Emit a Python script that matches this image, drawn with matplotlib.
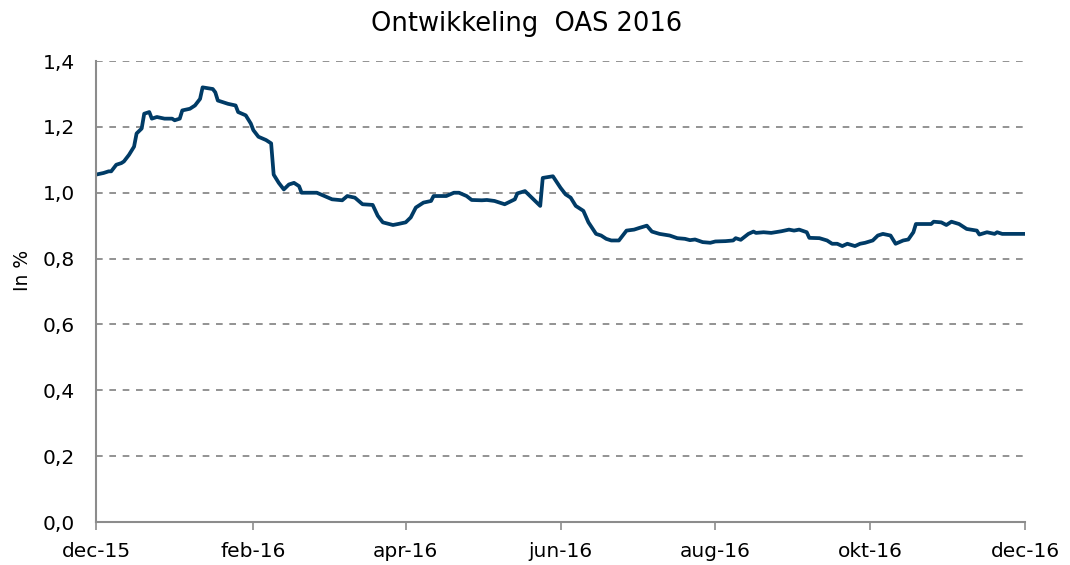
import matplotlib
matplotlib.use("Agg")
import matplotlib.pyplot as plt
import matplotlib.ticker as mticker
import pandas as pd

# OAS development 2016
dates = [
    "2015-12-01", "2015-12-04", "2015-12-06", "2015-12-07", "2015-12-08", "2015-12-09",
    "2015-12-11", "2015-12-12", "2015-12-14", "2015-12-16", "2015-12-17", "2015-12-19",
    "2015-12-20", "2015-12-22", "2015-12-23", "2015-12-25", "2015-12-28", "2015-12-31",
    "2016-01-01", "2016-01-03", "2016-01-04", "2016-01-07", "2016-01-09", "2016-01-11",
    "2016-01-12", "2016-01-16", "2016-01-17", "2016-01-18", "2016-01-22", "2016-01-25",
    "2016-01-26", "2016-01-29", "2016-01-31", "2016-02-01", "2016-02-03", "2016-02-06",
    "2016-02-08", "2016-02-09", "2016-02-11", "2016-02-13", "2016-02-15", "2016-02-17",
    "2016-02-19", "2016-02-20", "2016-02-22", "2016-02-26", "2016-02-29", "2016-03-03",
    "2016-03-07", "2016-03-09", "2016-03-12", "2016-03-15", "2016-03-19", "2016-03-21",
    "2016-03-23", "2016-03-27", "2016-03-29", "2016-04-01", "2016-04-03", "2016-04-05",
    "2016-04-08", "2016-04-11", "2016-04-12", "2016-04-17", "2016-04-20", "2016-04-22",
    "2016-04-25", "2016-04-27", "2016-05-01", "2016-05-03", "2016-05-06", "2016-05-10",
    "2016-05-14", "2016-05-15", "2016-05-18", "2016-05-24", "2016-05-25", "2016-05-29",
    "2016-06-01", "2016-06-03", "2016-06-05", "2016-06-07", "2016-06-10", "2016-06-12",
    "2016-06-15", "2016-06-17", "2016-06-19", "2016-06-21", "2016-06-24", "2016-06-27",
    "2016-06-30", "2016-07-02", "2016-07-05", "2016-07-07", "2016-07-10", "2016-07-14",
    "2016-07-17", "2016-07-20", "2016-07-22", "2016-07-24", "2016-07-27", "2016-07-30",
    "2016-08-01", "2016-08-05", "2016-08-08", "2016-08-09", "2016-08-11", "2016-08-14",
    "2016-08-16", "2016-08-17", "2016-08-20", "2016-08-23", "2016-08-27", "2016-08-30",
    "2016-09-01", "2016-09-03", "2016-09-06", "2016-09-07", "2016-09-11", "2016-09-14",
    "2016-09-16", "2016-09-18", "2016-09-20", "2016-09-22", "2016-09-25", "2016-09-27",
    "2016-09-29", "2016-10-02", "2016-10-04", "2016-10-06", "2016-10-09", "2016-10-11",
    "2016-10-14", "2016-10-16", "2016-10-18", "2016-10-19", "2016-10-25", "2016-10-26",
    "2016-10-29", "2016-10-31", "2016-11-02", "2016-11-05", "2016-11-08", "2016-11-12",
    "2016-11-13", "2016-11-16", "2016-11-19", "2016-11-20", "2016-11-22", "2016-12-01",
]
oas = [
    1.055, 1.060, 1.065, 1.065, 1.075, 1.085,
    1.090, 1.095, 1.115, 1.140, 1.180, 1.195,
    1.240, 1.245, 1.225, 1.230, 1.225, 1.225,
    1.220, 1.225, 1.250, 1.255, 1.265, 1.285,
    1.320, 1.315, 1.305, 1.280, 1.270, 1.265,
    1.245, 1.235, 1.210, 1.190, 1.170, 1.160,
    1.150, 1.055, 1.030, 1.010, 1.025, 1.030,
    1.020, 1.000, 1.000, 1.000, 0.990, 0.980,
    0.977, 0.990, 0.985, 0.965, 0.963, 0.930,
    0.910, 0.902, 0.905, 0.910, 0.925, 0.955,
    0.970, 0.975, 0.990, 0.990, 1.000, 1.000,
    0.990, 0.978, 0.977, 0.978, 0.975, 0.965,
    0.980, 0.998, 1.005, 0.960, 1.045, 1.050,
    1.015, 0.995, 0.985, 0.960, 0.945, 0.910,
    0.875, 0.870, 0.860, 0.855, 0.855, 0.885,
    0.888, 0.893, 0.900, 0.882, 0.875, 0.870,
    0.862, 0.860, 0.856, 0.858, 0.850, 0.848,
    0.852, 0.853, 0.855, 0.862, 0.857, 0.875,
    0.882, 0.878, 0.880, 0.878, 0.883, 0.888,
    0.885, 0.888, 0.880, 0.863, 0.862, 0.855,
    0.845, 0.845, 0.838, 0.845, 0.838, 0.845,
    0.848, 0.855, 0.870, 0.875, 0.870, 0.845,
    0.855, 0.858, 0.880, 0.905, 0.905, 0.912,
    0.910, 0.902, 0.912, 0.905, 0.890, 0.885,
    0.873, 0.880, 0.875, 0.880, 0.875, 0.875,
]
tick_dates = ["2015-12-01", "2016-02-01", "2016-04-01", "2016-06-01",
              "2016-08-01", "2016-10-01", "2016-12-01"]
tick_labels = ["dec-15", "feb-16", "apr-16", "jun-16", "aug-16", "okt-16", "dec-16"]
y_ticks = [0.0, 0.2, 0.4, 0.6, 0.8, 1.0, 1.2, 1.4]

x = pd.to_datetime(dates)
fig = plt.figure(figsize=(10.7, 5.65), dpi=100)
ax = fig.add_axes([0.0897, 0.0761, 0.8683, 0.8159])

ax.plot(x, oas, color="#003b66", linewidth=2.7, solid_joinstyle="round")

ax.set_xlim(pd.Timestamp(tick_dates[0]), pd.Timestamp(tick_dates[-1]))
ax.set_ylim(0, 1.4)
ax.set_xticks(pd.to_datetime(tick_dates))
ax.set_xticklabels(tick_labels)
ax.set_yticks(y_ticks)
ax.yaxis.set_major_formatter(mticker.FuncFormatter(lambda v, p: f"{v:.1f}".replace(".", ",")))

# dashed horizontal gridlines (none at 0)
for v in y_ticks[1:]:
    ax.axhline(v, color="#808080", linestyle=(0, (4, 4)), linewidth=1.2, zorder=0)

for s in ["top", "right"]:
    ax.spines[s].set_visible(False)
for s in ["left", "bottom"]:
    ax.spines[s].set_color("#8c8c8c")
    ax.spines[s].set_linewidth(1.5)
ax.tick_params(axis="x", colors="#8c8c8c", labelcolor="black", labelsize=14.5,
               length=5.5, width=1.2, pad=9)
ax.tick_params(axis="y", labelsize=14.5, length=0, pad=15)

fig.text(0.021, 0.522, "In %", rotation=90, ha="center", va="center", fontsize=13.5)
fig.text(0.4925, 0.958, "Ontwikkeling  OAS 2016", ha="center", va="center", fontsize=18.5)

fig.savefig("out.png", dpi=100)
